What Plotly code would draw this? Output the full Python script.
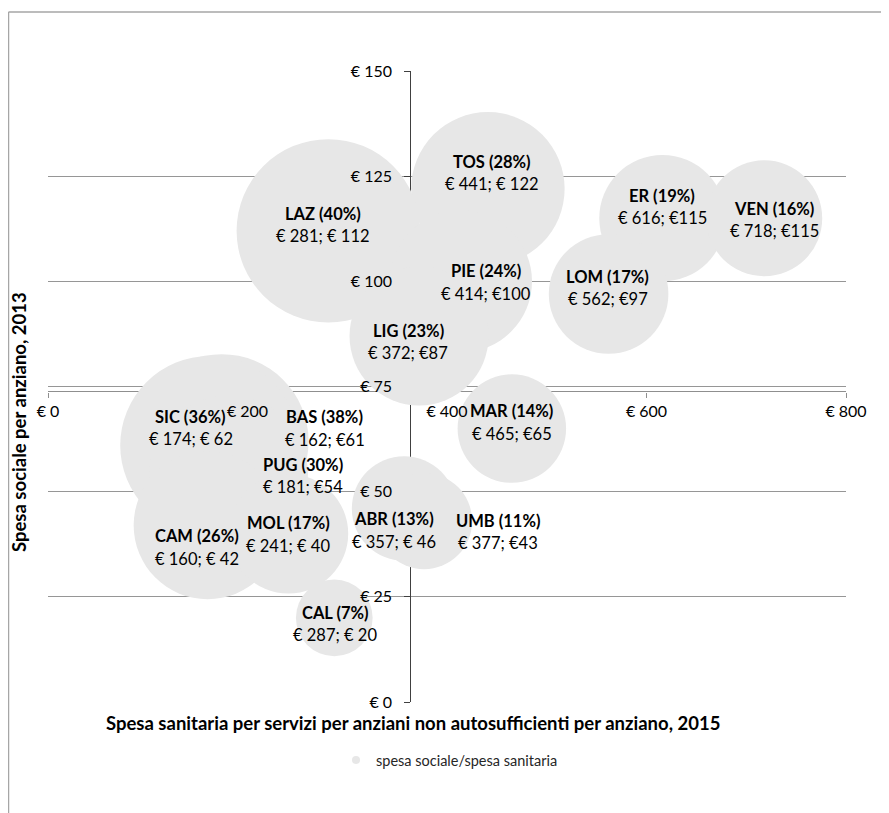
import plotly.graph_objects as go

# ---------------- data ----------------
regions = ["TOS", "ER", "VEN", "LAZ", "PIE", "LOM", "LIG", "SIC",
           "BAS", "MAR", "PUG", "CAM", "MOL", "ABR", "UMB", "CAL"]
spesa_sanitaria = [441, 616, 718, 281, 414, 562, 372, 174,
                   162, 465, 181, 160, 241, 357, 377, 287]
spesa_sociale = [122, 115, 115, 112, 100, 97, 87, 62,
                 61, 65, 54, 42, 40, 46, 43, 20]
ratio_pct = [28, 19, 16, 40, 24, 17, 23, 36,
             38, 14, 30, 26, 17, 13, 11, 7]
value_labels = ["€ 441; € 122", "€ 616; €115", "€ 718; €115", "€ 281; € 112",
                "€ 414; €100", "€ 562; €97", "€ 372; €87", "€ 174; € 62",
                "€ 162; €61", "€ 465; €65", "€ 181; €54", "€ 160; € 42",
                "€ 241; € 40", "€ 357; € 46", "€ 377; €43", "€ 287; € 20"]
x_ticks = [0, 200, 400, 600, 800]
y_ticks = [0, 25, 50, 75, 100, 125, 150]
x_tick_labels = ["€ 0", "€ 200", "€ 400", "€ 600", "€ 800"]
y_tick_labels = ["€ 0", "€ 25", "€ 50", "€ 75", "€ 100", "€ 125", "€ 150"]
x_title = "Spesa sanitaria per servizi per anziani non autosufficienti per anziano, 2015"
y_title = "Spesa sociale per anziano, 2013"
legend_name = "spesa sociale/spesa sanitaria"

# ---------------- style / layout ----------------
OFF = 8                      # page body margin of the html page
W, H = 889 - OFF, 813 - OFF  # figure size so that nothing overflows
ML, MT = 48 - OFF, 71 - OFF
MR, MB = 43, 111
PW, PH = W - ML - MR, H - MT - MB

def px_x(p):  # screen pixel -> paper x
    return (p - OFF - ML) / PW

def px_y(p):  # screen pixel -> paper y
    return (H - MB - (p - OFF)) / PH

# label offsets in pixels (dx right, dy down) relative to bubble centre
label_dx = [4, 0, 10, -5, 25, -1, -11, -31, 115, 0, 74, -11, 0, -10, 74, 1]
label_dy = [-16, -11, 2, -6, 1, -6, 6, -13, -17, -6, 1, 22, 1, 22, 11, 6]
LINE_GAP = 22.5

FONT = "Lato"
BUBBLE = "#e7e7e7"
K = 14.5  # px radius per sqrt(unit)
max_diam = 2 * K * max(ratio_pct) ** 0.5
sizeref = 2.0 * max(ratio_pct) / max_diam ** 2

x_cross = sum(spesa_sanitaria) / len(spesa_sanitaria)
y_cross = sum(spesa_sociale) / len(spesa_sociale)

fig = go.Figure()
fig.add_trace(go.Scatter(
    x=spesa_sanitaria, y=spesa_sociale, mode="markers",
    marker=dict(size=ratio_pct, sizemode="area", sizeref=sizeref,
                color=BUBBLE, opacity=1, line=dict(width=0)),
    showlegend=False, cliponaxis=False, hoverinfo="skip",
    xaxis="x", yaxis="y",
))
# legend entry (small marker), on overlay axes
fig.add_trace(go.Scatter(
    x=[None], y=[None], mode="markers", name=legend_name,
    marker=dict(size=8, color=BUBBLE), showlegend=True,
    xaxis="x2", yaxis="y2",
))

annotations = []
for r, xv, yv, pct, vl, dx, dy in zip(regions, spesa_sanitaria, spesa_sociale,
                                      ratio_pct, value_labels, label_dx, label_dy):
    annotations.append(dict(
        x=xv, y=yv, xref="x", yref="y", text=f"<b>{r} ({pct}%)</b>",
        showarrow=False, xshift=dx, yshift=-dy + LINE_GAP / 2,
        font=dict(family=FONT, size=16.5, color="#000000")))
    annotations.append(dict(
        x=xv, y=yv, xref="x", yref="y", text=vl,
        showarrow=False, xshift=dx, yshift=-dy - LINE_GAP / 2,
        font=dict(family=FONT, size=16.5, color="#000000")))

annotations.append(dict(
    x=px_x(413), y=px_y(723), xref="paper", yref="paper", text=f"<b>{x_title}</b>",
    showarrow=False, xanchor="center", yanchor="middle",
    font=dict(family=FONT, size=18.5, color="#000000")))
annotations.append(dict(
    x=px_x(19), y=px_y(422), xref="paper", yref="paper", text=f"<b>{y_title}</b>",
    showarrow=False, xanchor="center", yanchor="middle", textangle=-90,
    font=dict(family=FONT, size=18.5, color="#000000")))

shapes = [
    dict(type="line", xref="paper", yref="paper",
         x0=px_x(8.5), x1=px_x(8.5), y0=px_y(12), y1=px_y(830),
         line=dict(color="#a6a6a6", width=1.5)),
    dict(type="line", xref="paper", yref="paper",
         x0=px_x(8.5), x1=px_x(900), y0=px_y(12), y1=px_y(12),
         line=dict(color="#a6a6a6", width=1.5)),
]

fig.update_layout(
    width=W, height=H, autosize=False,
    margin=dict(l=ML, r=MR, t=MT, b=MB, pad=0),
    paper_bgcolor="white", plot_bgcolor="white",
    font=dict(family=FONT, size=16, color="#000000"),
    xaxis=dict(type="linear", range=[0, 800], anchor="free", position=y_cross / 150,
               showline=True, linecolor="#8f8f8f", linewidth=1.3,
               ticks="outside", ticklen=5, tickcolor="#8f8f8f", tickwidth=1.3,
               tickvals=x_ticks, showticklabels=False, showgrid=False,
               zeroline=False, layer="below traces", fixedrange=True),
    yaxis=dict(type="linear", range=[0, 150], anchor="free", position=x_cross / 800,
               showline=True, linecolor="#404040", linewidth=1.3,
               ticks="outside", ticklen=6, tickcolor="#404040", tickwidth=1.3,
               tickvals=y_ticks, showticklabels=False, showgrid=True,
               gridcolor="#969696", gridwidth=1.3,
               zeroline=False, layer="below traces", fixedrange=True),
    xaxis2=dict(type="linear", range=[0, 800], overlaying="x", anchor="free",
                position=y_cross / 150, side="bottom", showline=False, ticks="",
                tickmode="array", tickvals=x_ticks, ticktext=x_tick_labels,
                showgrid=False, zeroline=False,
                ticklabelstandoff=9, layer="above traces", fixedrange=True,
                tickfont=dict(family=FONT, size=16, color="#000000")),
    yaxis2=dict(type="linear", range=[0, 150], overlaying="y", anchor="free",
                position=x_cross / 800, side="left", showline=False, ticks="",
                tickmode="array", tickvals=y_ticks, ticktext=y_tick_labels,
                showgrid=False, zeroline=False,
                ticklabelstandoff=18, layer="above traces", fixedrange=True,
                tickfont=dict(family=FONT, size=16, color="#000000")),
    legend=dict(orientation="h", x=px_x(336), y=px_y(760), xanchor="left",
                yanchor="middle", font=dict(family=FONT, size=14.5, color="#262626"),
                bgcolor="rgba(0,0,0,0)", itemwidth=30),
    annotations=annotations,
    shapes=shapes,
)

fig.write_html("out.html")
